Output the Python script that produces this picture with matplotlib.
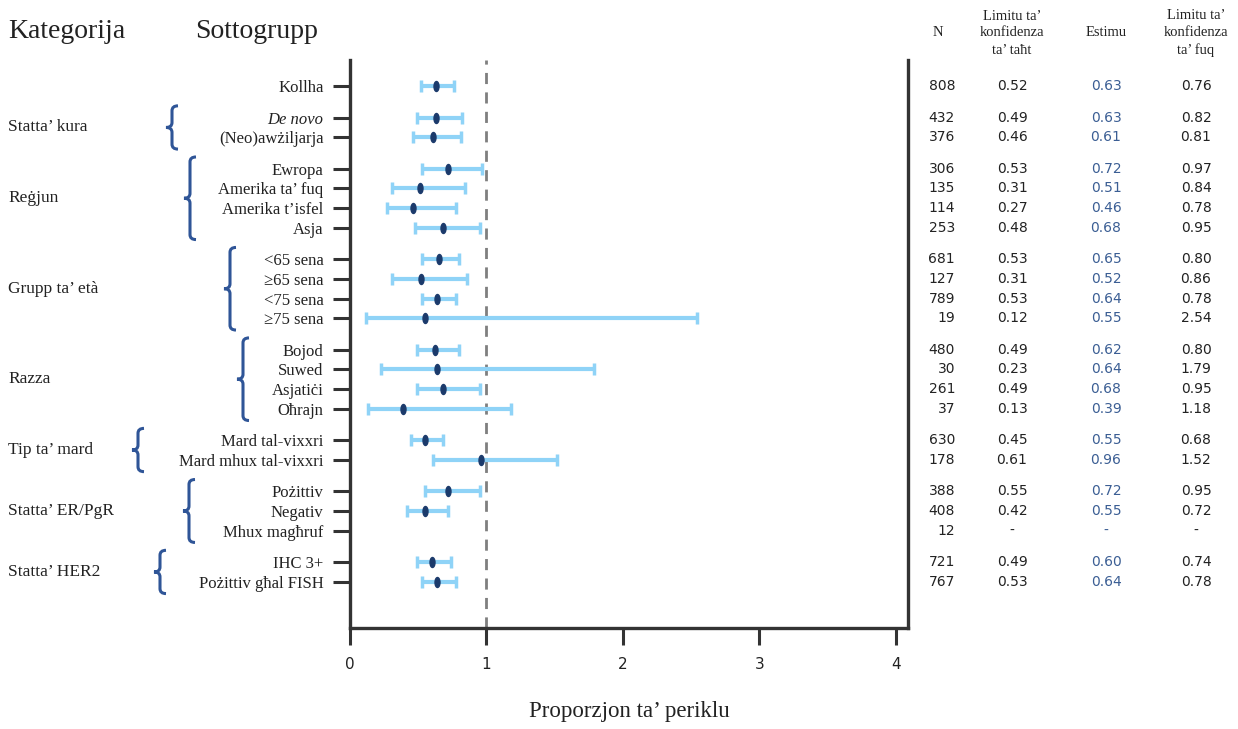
import numpy as np
import matplotlib
matplotlib.use('Agg')
import matplotlib.pyplot as plt
from matplotlib.path import Path
from matplotlib.patches import PathPatch
from matplotlib.transforms import Affine2D, blended_transform_factory

# ---- data ----
categories = ["", "Statta’ kura", "Reġjun", "Grupp ta’ età", "Razza",
              "Tip ta’ mard", "Statta’ ER/PgR", "Statta’ HER2"]
group_sizes = [1, 2, 4, 4, 4, 2, 3, 2]
subgroups = ["Kollha", "De novo", "(Neo)awżiljarja",
             "Ewropa", "Amerika ta’ fuq", "Amerika t’isfel", "Asja",
             "<65 sena", "≥65 sena", "<75 sena", "≥75 sena",
             "Bojod", "Suwed", "Asjatiċi", "Oħrajn",
             "Mard tal-vixxri", "Mard mhux tal-vixxri",
             "Pożittiv", "Negativ", "Mhux magħruf",
             "IHC 3+", "Pożittiv għal FISH"]
n_pts = [808, 432, 376, 306, 135, 114, 253, 681, 127, 789, 19,
         480, 30, 261, 37, 630, 178, 388, 408, 12, 721, 767]
nan = np.nan
lower = [0.52, 0.49, 0.46, 0.53, 0.31, 0.27, 0.48, 0.53, 0.31, 0.53, 0.12,
         0.49, 0.23, 0.49, 0.13, 0.45, 0.61, 0.55, 0.42, nan, 0.49, 0.53]
estimate = [0.63, 0.63, 0.61, 0.72, 0.51, 0.46, 0.68, 0.65, 0.52, 0.64, 0.55,
            0.62, 0.64, 0.68, 0.39, 0.55, 0.96, 0.72, 0.55, nan, 0.60, 0.64]
upper = [0.76, 0.82, 0.81, 0.97, 0.84, 0.78, 0.95, 0.80, 0.86, 0.78, 2.54,
         0.80, 1.79, 0.95, 1.18, 0.68, 1.52, 0.95, 0.72, nan, 0.74, 0.78]
x_ticks = [0, 1, 2, 3, 4]

# ---- layout ----
W, H = 1238, 729
gap = 0.6
brace_x = [None, 172, 190, 230, 243, 138, 189, 160]   # px, body of each brace

serif = ['Liberation Serif', 'DejaVu Serif']
sans = ['DejaVu Sans']
err_col = '#8fd3f7'
dot_col = '#1b3a6b'
brace_col = '#2f5597'
est_col = '#3b5e94'
txt_col = '#222222'

# row positions
ypos = []
group_mid = []
y = 0.0
for g, size in enumerate(group_sizes):
    if g > 0:
        y += gap
    rows = []
    for k in range(size):
        rows.append(y)
        y += 1
    ypos.extend(rows)
    group_mid.append((rows[0], rows[-1]))
ypos = np.array(ypos)

fig = plt.figure(figsize=(W / 100, H / 100), dpi=100)
ax = fig.add_axes([350 / W, 1 - 628 / H, 558 / W, 568 / H])

lo = np.array(lower)
hi = np.array(upper)
est = np.array(estimate)
ok = ~np.isnan(est)
ax.errorbar(est[ok], ypos[ok], xerr=[est[ok] - lo[ok], hi[ok] - est[ok]],
            fmt='none', ecolor=err_col, elinewidth=3, capsize=4, capthick=2.5, zorder=2)
ell = Path.unit_circle().transformed(Affine2D().scale(0.5, 1.0))
ax.plot(est[ok], ypos[ok], linestyle='none', marker=ell, markersize=7.2,
        color=dot_col, zorder=3)

ax.axvline(1, color='#7f7f7f', lw=2, dashes=(4, 3), zorder=1)

ax.set_xlim(0, 4.09)
ax.set_ylim(ypos[-1] + 2.35, -1.33)
ax.set_xticks(x_ticks)
ax.set_xticklabels([str(t) for t in x_ticks], fontsize=11, family=sans, color=txt_col)
ax.set_yticks(ypos)
ax.set_yticklabels(subgroups, fontsize=12, family=serif, color=txt_col)
for lbl, name in zip(ax.get_yticklabels(), subgroups):
    if name == "De novo":
        lbl.set_style('italic')
ax.tick_params(axis='y', length=12, width=2.2, pad=7, color='#333333', direction='out')
ax.tick_params(axis='x', length=12, width=2.2, pad=9, color='#333333', direction='out')
ax.spines['top'].set_visible(False)
for s in ['left', 'right', 'bottom']:
    ax.spines[s].set_linewidth(2.4)
    ax.spines[s].set_color('#333333')
ax.set_xlabel("Proporzjon ta’ periklu", fontsize=16.5, family=serif, labelpad=21,
              color=txt_col)

# headers
fig.text(8 / W, 1 - 32 / H, "Kategorija", fontsize=20, family=serif, va='center',
         color=txt_col)
fig.text(195 / W, 1 - 32 / H, "Sottogrupp", fontsize=20, family=serif, va='center',
         color=txt_col)

tr = blended_transform_factory(fig.transFigure, ax.transData)

# categories and braces
for g, cat in enumerate(categories):
    if not cat:
        continue
    y0, y1 = group_mid[g]
    ym = (y0 + y1) / 2
    fig.text(8 / W, ym, cat, transform=tr, fontsize=12.5, family=serif, va='center',
             color=txt_col)
    xb = brace_x[g] / W
    w = 6 / W
    t, b = y0 - 0.6, y1 + 0.6
    r = 0.25
    verts = [(xb + w, t), (xb, t), (xb, t + r),
             (xb, ym - r), (xb, ym), (xb - w, ym),
             (xb, ym), (xb, ym + r),
             (xb, b - r), (xb, b), (xb + w, b)]
    codes = [Path.MOVETO, Path.CURVE3, Path.CURVE3,
             Path.LINETO, Path.CURVE3, Path.CURVE3,
             Path.CURVE3, Path.CURVE3,
             Path.LINETO, Path.CURVE3, Path.CURVE3]
    fig.add_artist(PathPatch(Path(verts, codes), transform=tr, fill=False,
                             edgecolor=brace_col, lw=2.2))

# table on the right
col_n = 955 / W
col_lo = 1012 / W
col_est = 1106 / W
col_hi = 1196 / W
hy = 1 - 33 / H
hsize = 10.5
fig.text(938 / W, hy, "N", fontsize=hsize, family=serif, ha='center', va='center',
         color=txt_col)
fig.text(col_lo, hy, "Limitu ta’\nkonfidenza\nta’ taħt", fontsize=hsize, family=serif,
         ha='center', va='center', linespacing=1.4, color=txt_col)
fig.text(col_est, hy, "Estimu", fontsize=hsize, family=serif, ha='center', va='center',
         color=txt_col)
fig.text(col_hi, hy, "Limitu ta’\nkonfidenza\nta’ fuq", fontsize=hsize, family=serif,
         ha='center', va='center', linespacing=1.4, color=txt_col)


def fmt(v):
    return "-" if np.isnan(v) else "%.2f" % v


for i in range(len(subgroups)):
    yy = ypos[i]
    fig.text(col_n, yy, str(n_pts[i]), transform=tr, fontsize=10, family=sans,
             ha='right', va='center', color=txt_col)
    fig.text(col_lo, yy, fmt(lower[i]), transform=tr, fontsize=10, family=sans,
             ha='center', va='center', color=txt_col)
    fig.text(col_est, yy, fmt(estimate[i]), transform=tr, fontsize=10, family=sans,
             ha='center', va='center', color=est_col)
    fig.text(col_hi, yy, fmt(upper[i]), transform=tr, fontsize=10, family=sans,
             ha='center', va='center', color=txt_col)

fig.savefig('out.png', dpi=100)
